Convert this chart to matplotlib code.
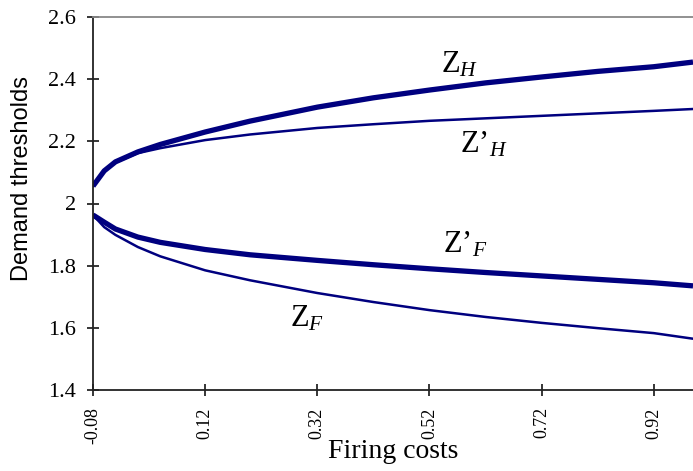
import matplotlib.pyplot as plt

plt.rcParams['mathtext.fontset'] = 'custom'
plt.rcParams['mathtext.rm'] = 'Liberation Serif'
plt.rcParams['mathtext.it'] = 'Liberation Serif:italic'

# firing costs (x) and the four demand thresholds
firing = [-0.08, -0.06, -0.04, 0.0, 0.04, 0.12, 0.2, 0.32, 0.42, 0.52, 0.62, 0.72, 0.82, 0.92, 0.99]
z_h = [2.056, 2.105, 2.134, 2.166, 2.19, 2.23, 2.265, 2.31, 2.34, 2.365, 2.388, 2.407, 2.425, 2.44, 2.455]
z_h_prime = [2.056, 2.105, 2.132, 2.162, 2.178, 2.204, 2.222, 2.243, 2.255, 2.266, 2.274, 2.282, 2.29, 2.298, 2.304]
z_f_prime = [1.963, 1.94, 1.918, 1.892, 1.875, 1.852, 1.835, 1.817, 1.803, 1.79, 1.778, 1.767, 1.756, 1.745, 1.735]
z_f = [1.963, 1.924, 1.899, 1.86, 1.83, 1.785, 1.753, 1.712, 1.683, 1.657, 1.635, 1.616, 1.599, 1.583, 1.565]

xticks = [-0.08, 0.12, 0.32, 0.52, 0.72, 0.92]
yticks = [1.4, 1.6, 1.8, 2.0, 2.2, 2.4, 2.6]
ytick_labels = ['1.4', '1.6', '1.8', '2', '2.2', '2.4', '2.6']

navy = '#00007f'

fig = plt.figure(figsize=(6.93, 4.71), dpi=100)
ax = fig.add_axes([93 / 693, 81 / 471, 600 / 693, 373 / 471])

ax.plot(firing, z_h, color=navy, lw=3.8, solid_capstyle='butt')
ax.plot(firing, z_h_prime, color=navy, lw=1.8)
ax.plot(firing, z_f_prime, color=navy, lw=3.8, solid_capstyle='butt')
ax.plot(firing, z_f, color=navy, lw=1.8)

ax.set_xlim(-0.08, 0.99)
ax.set_ylim(1.4, 2.6)
ax.set_xticks(xticks)
ax.set_xticklabels([f'{t:.2f}' for t in xticks], rotation=90,
                   fontfamily='Liberation Serif', fontsize=13)
ax.set_yticks(yticks)
ax.set_yticklabels(ytick_labels, fontfamily='Liberation Serif', fontsize=16)

ax.tick_params(axis='y', direction='inout', length=9, width=1.1, pad=8)
ax.tick_params(axis='x', direction='inout', length=9, width=1.1, pad=8)

ax.spines['right'].set_visible(False)
ax.spines['top'].set_color('#888888')
ax.spines['top'].set_linewidth(1.3)
for s in ('left', 'bottom'):
    ax.spines[s].set_color('#222222')
    ax.spines[s].set_linewidth(1.3)

ax.set_ylabel('Demand thresholds', fontfamily='Liberation Sans', fontsize=17)
ax.yaxis.set_label_coords(-0.1, 0.566)
ax.set_xlabel('Firing costs', fontfamily='Liberation Serif', fontsize=20, labelpad=-4)

lab = dict(fontfamily='Liberation Serif', fontsize=22, ha='left', va='baseline')
ax.text(0.54, 2.423, r'Z$_{\mathit{H}}$', **lab)
ax.text(0.574, 2.163, r'Z’$_{\mathit{H}}$', **lab)
ax.text(0.545, 1.841, r'Z’$_{\mathit{F}}$', **lab)
ax.text(0.272, 1.603, r'Z$_{\mathit{F}}$', **lab)

fig.savefig('out.png', dpi=100)
